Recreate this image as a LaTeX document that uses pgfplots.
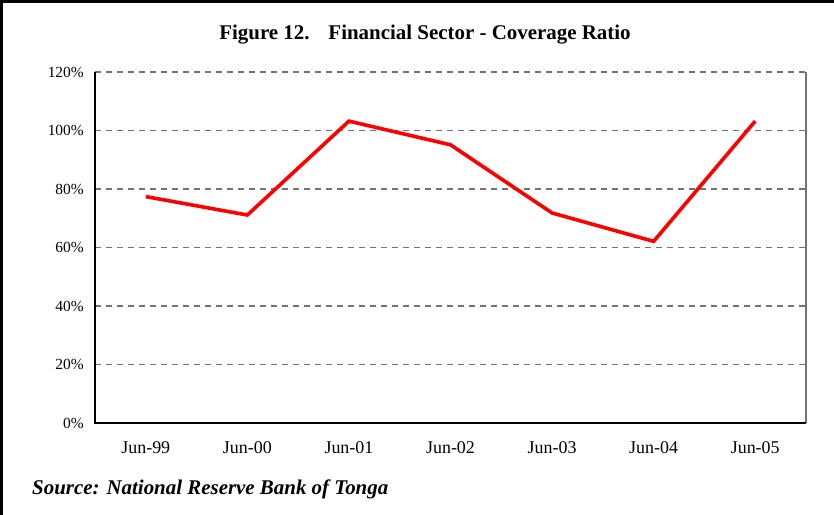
\documentclass[border=0pt]{standalone}
\usepackage{fontspec}
\setmainfont{Liberation Serif}
\usepackage{pgfplots}
\pgfplotsset{compat=1.18}
\begin{document}
\begin{tikzpicture}[x=1bp,y=1bp]
\path[use as bounding box] (0,0) rectangle (834,515);
\draw[line width=3bp] (1.5,0) -- (1.5,513.5) -- (834,513.5);
\node[font=\fontsize{21}{25}\selectfont\bfseries, anchor=base] at (425,475) {Figure 12.\hspace{0.9em}Financial Sector - Coverage Ratio};
\node[font=\fontsize{21}{25}\selectfont\bfseries\itshape, anchor=base west, inner sep=0pt] at (32,20) {Source: National Reserve Bank of Tonga};
\begin{axis}[at={(95bp,92bp)}, anchor=south west, scale only axis,
  width=711bp, height=351bp,
  xmin=-0.5, xmax=6.5, ymin=0, ymax=120,
  xtick={0,1,2,3,4,5,6},
  xticklabels={Jun-99,Jun-00,Jun-01,Jun-02,Jun-03,Jun-04,Jun-05},
  ytick={0,20,40,60,80,100,120},
  yticklabel={\pgfmathprintnumber{\tick}\%},
  /pgf/number format/assume math mode=true,
  major tick length=0pt,
  xticklabel style={font=\fontsize{18}{20}\selectfont, anchor=base, yshift=-31bp},
  yticklabel style={font=\fontsize{15.5}{18}\selectfont, anchor=east, inner sep=0pt, xshift=-11bp},
  ymajorgrids,
  grid style={black!55, dash pattern=on 6bp off 5bp, line width=1.4bp},
  axis line style={draw=none},
  clip=false,
]
\draw[black!55, line width=1.2bp] (rel axis cs:1,0) -- (rel axis cs:1,1);
\draw[black, line width=1.2bp] (rel axis cs:0,1) -- (rel axis cs:0,0) -- (rel axis cs:1,0);
\addplot[red, line width=3.6bp, mark=none] coordinates {
  (0,77.4) (1,71.1) (2,103.2) (3,95.1) (4,71.8) (5,62.1) (6,103.2)
};
\end{axis}
\end{tikzpicture}
\end{document}
